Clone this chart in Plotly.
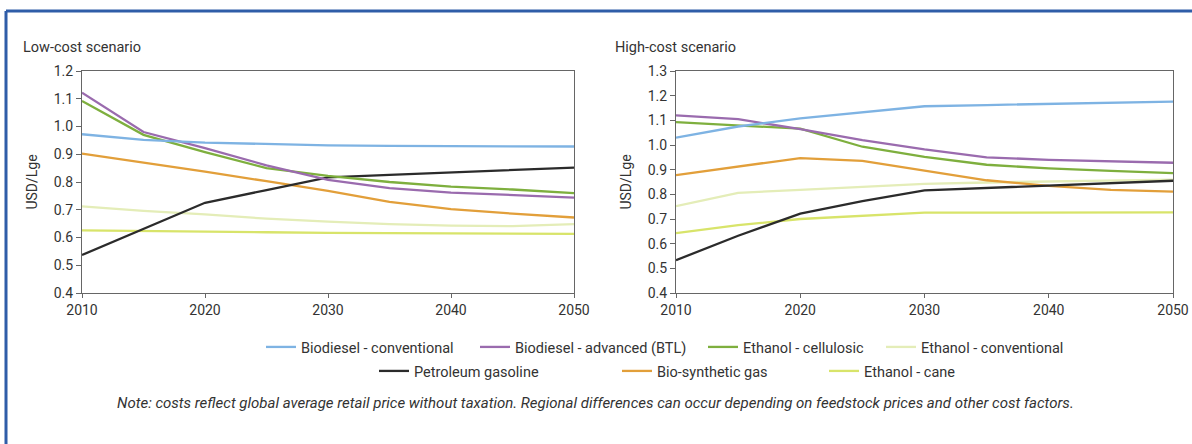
import plotly.graph_objects as go
from plotly.subplots import make_subplots

years = [2010, 2015, 2020, 2025, 2030, 2035, 2040, 2045, 2050]

series_names = [
    "Biodiesel - conventional",
    "Biodiesel - advanced (BTL)",
    "Ethanol - cellulosic",
    "Ethanol - conventional",
    "Petroleum gasoline",
    "Bio-synthetic gas",
    "Ethanol - cane",
]
series_colors = ["#7EB3E3", "#9A6BAE", "#7EAF3E", "#E4EDB8", "#2B2B2B", "#E29F3A", "#D8E46A"]

# Low-cost scenario (USD/Lge)
low_biodiesel_conv = [0.972, 0.952, 0.942, 0.936, 0.932, 0.930, 0.929, 0.928, 0.928]
low_biodiesel_adv = [1.122, 0.980, 0.922, 0.860, 0.808, 0.778, 0.762, 0.752, 0.744]
low_ethanol_cell = [1.092, 0.970, 0.908, 0.850, 0.822, 0.800, 0.783, 0.773, 0.760]
low_ethanol_conv = [0.712, 0.696, 0.683, 0.668, 0.657, 0.648, 0.643, 0.641, 0.648]
low_petroleum = [0.537, 0.630, 0.725, 0.771, 0.817, 0.826, 0.835, 0.843, 0.852]
low_biosyngas = [0.902, 0.870, 0.837, 0.803, 0.768, 0.728, 0.702, 0.686, 0.672]
low_ethanol_cane = [0.626, 0.623, 0.621, 0.619, 0.617, 0.616, 0.615, 0.614, 0.613]

# High-cost scenario (USD/Lge)
high_biodiesel_conv = [1.030, 1.075, 1.108, 1.132, 1.157, 1.162, 1.166, 1.171, 1.176]
high_biodiesel_adv = [1.120, 1.105, 1.064, 1.020, 0.982, 0.950, 0.940, 0.933, 0.928]
high_ethanol_cell = [1.093, 1.080, 1.066, 0.993, 0.952, 0.920, 0.905, 0.895, 0.886]
high_ethanol_conv = [0.752, 0.806, 0.818, 0.830, 0.842, 0.848, 0.853, 0.857, 0.860]
high_petroleum = [0.533, 0.632, 0.722, 0.772, 0.816, 0.826, 0.836, 0.846, 0.855]
high_biosyngas = [0.878, 0.912, 0.947, 0.936, 0.896, 0.857, 0.834, 0.818, 0.811]
high_ethanol_cane = [0.643, 0.675, 0.700, 0.713, 0.726, 0.726, 0.726, 0.727, 0.727]

low_series = [low_biodiesel_conv, low_biodiesel_adv, low_ethanol_cell, low_ethanol_conv,
              low_petroleum, low_biosyngas, low_ethanol_cane]
high_series = [high_biodiesel_conv, high_biodiesel_adv, high_ethanol_cell, high_ethanol_conv,
               high_petroleum, high_biosyngas, high_ethanol_cane]

panel_titles = ["Low-cost scenario", "High-cost scenario"]
y_title = "USD/Lge"
x_ticks = [2010, 2020, 2030, 2040, 2050]
low_y_ticks = [0.4, 0.5, 0.6, 0.7, 0.8, 0.9, 1.0, 1.1, 1.2]
high_y_ticks = [0.4, 0.5, 0.6, 0.7, 0.8, 0.9, 1.0, 1.1, 1.2, 1.3]
note = ("Note: costs reflect global average retail price without taxation. Regional differences "
        "can occur depending on feedstock prices and other cost factors.")

FONT = "Myriad Pro, Roboto, Arial, sans-serif"
TXT = "#333333"
W, H = 1192, 444
ML, MR, MT, MB = 82, 19, 71, 151
PW = W - ML - MR
PH = H - MT - MB


def px_x(p):
    return (p - ML) / PW


def px_y(p):
    return (H - MB - p) / PH


# legend entry anchor (left of line sample, vertical centre) in pixels
legend_pos = [(266, 347), (480, 347), (708, 347), (886, 347),
              (379, 371), (622, 371), (829, 371)]
legend_ids = ["legend", "legend2", "legend3", "legend4", "legend5", "legend6", "legend7"]

fig = make_subplots(rows=1, cols=2, horizontal_spacing=0.0)

draw_order = [3, 6, 5, 4, 2, 1, 0]
for i in draw_order:
    fig.add_trace(go.Scatter(
        x=years, y=low_series[i], name=series_names[i], mode="lines",
        line=dict(color=series_colors[i], width=2.3), legend=legend_ids[i],
    ), row=1, col=1)
    fig.add_trace(go.Scatter(
        x=years, y=high_series[i], name=series_names[i], mode="lines",
        line=dict(color=series_colors[i], width=2.3), showlegend=False,
    ), row=1, col=2)

axis_common = dict(showline=True, linecolor="#666666", linewidth=1, mirror=True,
                   showgrid=False, zeroline=False, ticks="outside", tickcolor="#666666",
                   tickfont=dict(family=FONT, size=14, color=TXT))

fig.update_xaxes(range=[2010, 2050], tickvals=x_ticks, ticklen=4, **axis_common)
fig.update_xaxes(domain=[0, px_x(574)], row=1, col=1)
fig.update_xaxes(domain=[px_x(676), 1], row=1, col=2)
fig.update_yaxes(ticklen=5, tickformat=".1f", **axis_common)
fig.update_yaxes(range=[0.4, 1.2], tickvals=low_y_ticks, row=1, col=1,
                 title=dict(text=y_title, standoff=12, font=dict(family=FONT, size=14, color=TXT)))
fig.update_yaxes(range=[0.4, 1.3], tickvals=high_y_ticks, row=1, col=2,
                 title=dict(text=y_title, standoff=12, font=dict(family=FONT, size=14, color=TXT)))

annotations = [
    dict(text=panel_titles[0], x=px_x(21), y=px_y(48), xref="paper", yref="paper",
         xanchor="left", yanchor="middle", showarrow=False,
         font=dict(family=FONT, size=14.5, color=TXT)),
    dict(text=panel_titles[1], x=px_x(613), y=px_y(48), xref="paper", yref="paper",
         xanchor="left", yanchor="middle", showarrow=False,
         font=dict(family=FONT, size=14.5, color=TXT)),
    dict(text="<i>" + note + "</i>", x=px_x(595), y=px_y(403), xref="paper", yref="paper",
         xanchor="center", yanchor="middle", showarrow=False,
         font=dict(family=FONT, size=15, color=TXT)),
]

frame_color = "#2F5DA8"
shapes = [
    dict(type="line", xref="paper", yref="paper", x0=px_x(6), x1=px_x(6),
         y0=px_y(H + 5), y1=px_y(11), line=dict(color=frame_color, width=3)),
    dict(type="line", xref="paper", yref="paper", x0=px_x(6), x1=px_x(W + 5),
         y0=px_y(11), y1=px_y(11), line=dict(color=frame_color, width=3)),
]

layout_legends = {}
for lid, (lx, ly) in zip(legend_ids, legend_pos):
    layout_legends[lid] = dict(
        orientation="h", x=px_x(lx - 5), y=px_y(ly), xanchor="left", yanchor="middle",
        font=dict(family=FONT, size=14.5, color=TXT), bgcolor="rgba(0,0,0,0)",
        borderwidth=0, tracegroupgap=0,
    )

fig.update_layout(
    width=W, height=H,
    margin=dict(l=ML, r=MR, t=MT, b=MB, autoexpand=False),
    paper_bgcolor="white", plot_bgcolor="white",
    font=dict(family=FONT, size=14, color=TXT),
    annotations=annotations,
    shapes=shapes,
    **layout_legends,
)

fig.write_html(
    "out.html",
    config={"displayModeBar": False},
    post_script="document.body.style.margin='0';document.body.style.overflow='hidden';",
)
